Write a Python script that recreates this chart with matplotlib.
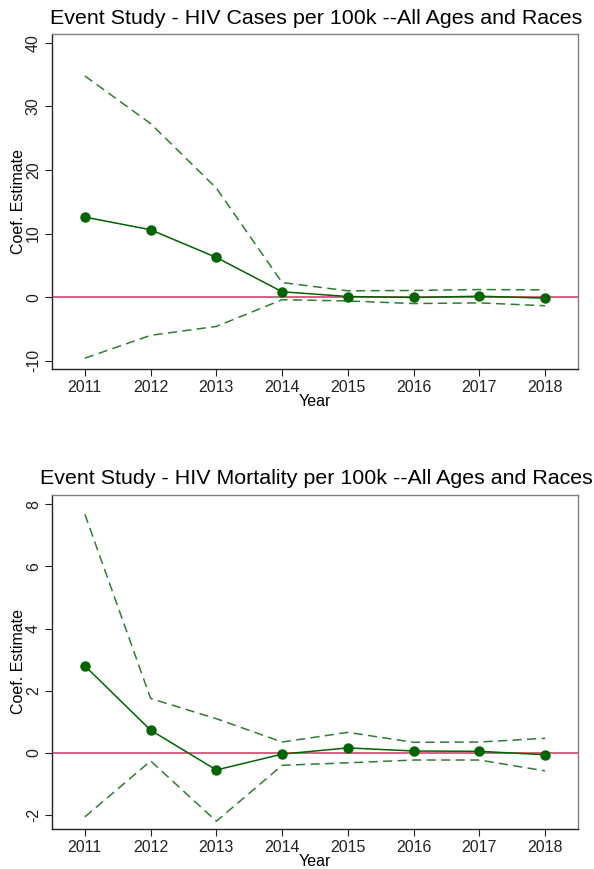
import matplotlib
matplotlib.use("Agg")
import matplotlib.pyplot as plt
import numpy as np

plt.rcParams['font.family'] = ['Liberation Sans', 'DejaVu Sans']
plt.rcParams['axes.unicode_minus'] = False

years = [2011, 2012, 2013, 2014, 2015, 2016, 2017, 2018]

# HIV cases per 100k
cases_coef = [12.6, 10.6, 6.25, 0.85, 0.1, -0.05, 0.15, -0.15]
cases_hi = [34.8, 27.3, 17.15, 2.3, 1.0, 1.05, 1.2, 1.15]
cases_lo = [-9.6, -6.0, -4.6, -0.4, -0.6, -1.0, -0.9, -1.35]

# HIV mortality per 100k
mort_coef = [2.8, 0.73, -0.55, -0.04, 0.16, 0.06, 0.05, -0.06]
mort_hi = [7.68, 1.75, 1.1, 0.35, 0.66, 0.34, 0.35, 0.47]
mort_lo = [-2.06, -0.26, -2.2, -0.4, -0.32, -0.23, -0.23, -0.58]

W, H = 594, 869
fig = plt.figure(figsize=(W / 100, H / 100), dpi=100)

green = '#006400'
dash_green = '#2e7d32'
red = '#c8385e'


def panel(rect, coef, hi, lo, yticks, ylim, title, title_y):
    ax = fig.add_axes(rect)
    ax.axhline(0, color=red, lw=1.1, zorder=1)
    ax.plot(years, hi, color=dash_green, lw=1.1, dashes=(6, 3.5), zorder=2)
    ax.plot(years, lo, color=dash_green, lw=1.1, dashes=(6, 3.5), zorder=2)
    ax.plot(years, coef, color=green, lw=1.1, marker='o', ms=6.5, zorder=3)
    ax.set_xlim(2010.5, 2018.5)
    ax.set_ylim(*ylim)
    ax.set_xticks(years)
    ax.set_yticks(yticks)
    for lab in ax.get_yticklabels():
        lab.set_rotation(90)
        lab.set_va('center')
    ax.tick_params(labelsize=11.5, length=5, width=0.8, colors='#222222', pad=3)
    ax.set_xlabel('Year', fontsize=11.5, labelpad=-1)
    ax.set_ylabel('Coef. Estimate', fontsize=11.5, labelpad=0)
    for s in ['left', 'bottom']:
        ax.spines[s].set_color('#222222')
    for s in ['top', 'right']:
        ax.spines[s].set_color('#808080')
    for s in ax.spines.values():
        s.set_linewidth(1.0)
    fig.text(316 / W, 1 - title_y / H, title, fontsize=15.4, ha='center', va='center')
    return ax


panel([52 / W, 1 - 369 / H, 526 / W, 335 / H], cases_coef, cases_hi, cases_lo,
      [-10, 0, 10, 20, 30, 40], (-11.3, 41.4),
      'Event Study - HIV Cases per 100k --All Ages and Races', 18)
panel([52 / W, 1 - 829 / H, 526 / W, 334 / H], mort_coef, mort_hi, mort_lo,
      [-2, 0, 2, 4, 6, 8], (-2.45, 8.3),
      'Event Study - HIV Mortality per 100k --All Ages and Races', 479)

fig.savefig('out.png', dpi=100)
